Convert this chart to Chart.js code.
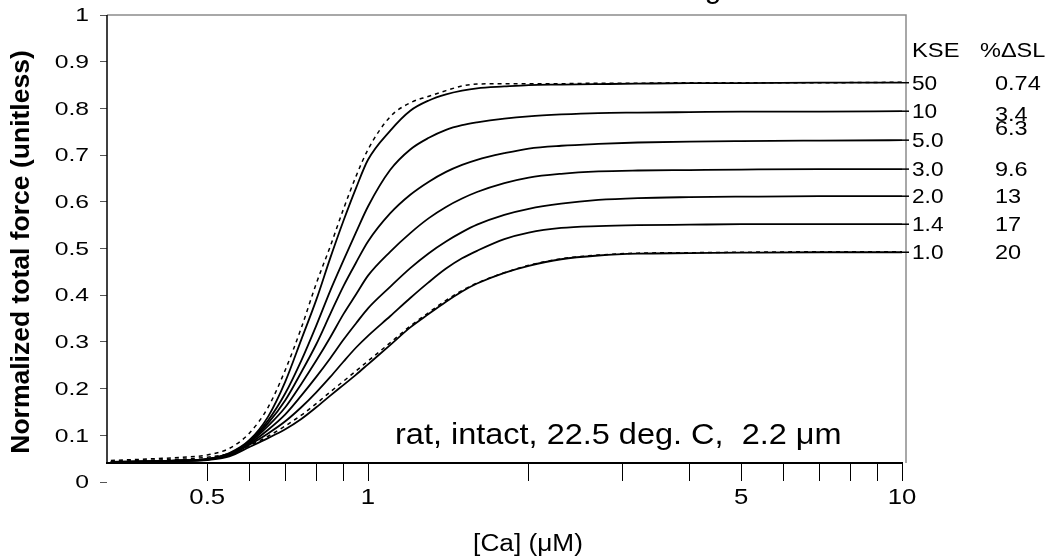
<!DOCTYPE html>
<html>
<head>
<meta charset="utf-8">
<script src="https://cdn.jsdelivr.net/npm/chart.js@4.4.1/dist/chart.umd.min.js"></script>
<style>
  html, body { margin: 0; padding: 0; background: #fff; }
</style>
</head>
<body>
<canvas id="chart" width="1050" height="560"></canvas>
<script>
// [Ca] sample points (uM)
const caValues = [0.33, 0.4, 0.45, 0.5, 0.55, 0.6, 0.65, 0.7, 0.75, 0.8, 0.85, 0.9, 0.95, 1.0,
  1.1, 1.2, 1.3, 1.4, 1.5, 1.6, 1.8, 2.0, 2.3, 2.7, 3.2, 4, 5, 7, 10];

// normalized total force, one list per KSE value (solid model lines)
const force50 = [0.043, 0.044, 0.046, 0.049, 0.062, 0.090, 0.140, 0.215, 0.305, 0.390, 0.480, 0.560, 0.630, 0.690,
  0.752, 0.795, 0.817, 0.830, 0.838, 0.843, 0.847, 0.850, 0.851, 0.852, 0.853, 0.854, 0.854, 0.855, 0.855];
const force10 = [0.043, 0.044, 0.046, 0.049, 0.061, 0.088, 0.132, 0.190, 0.260, 0.335, 0.410, 0.475, 0.535, 0.590,
  0.668, 0.712, 0.737, 0.754, 0.764, 0.770, 0.778, 0.783, 0.787, 0.790, 0.791, 0.792, 0.793, 0.793, 0.794];
const force5 = [0.043, 0.044, 0.046, 0.049, 0.060, 0.086, 0.126, 0.175, 0.235, 0.295, 0.360, 0.420, 0.470, 0.515,
  0.575, 0.615, 0.643, 0.664, 0.679, 0.690, 0.704, 0.714, 0.720, 0.724, 0.727, 0.729, 0.730, 0.731, 0.732];
const force3 = [0.043, 0.044, 0.046, 0.049, 0.059, 0.084, 0.120, 0.160, 0.210, 0.260, 0.310, 0.360, 0.402, 0.442,
  0.493, 0.533, 0.565, 0.589, 0.607, 0.621, 0.640, 0.652, 0.660, 0.665, 0.667, 0.668, 0.669, 0.670, 0.670];
const force2 = [0.043, 0.044, 0.046, 0.048, 0.058, 0.082, 0.112, 0.145, 0.185, 0.225, 0.265, 0.305, 0.340, 0.372,
  0.418, 0.458, 0.490, 0.515, 0.535, 0.551, 0.572, 0.585, 0.596, 0.604, 0.608, 0.610, 0.611, 0.612, 0.612];
const force14 = [0.043, 0.044, 0.045, 0.048, 0.057, 0.080, 0.104, 0.130, 0.160, 0.192, 0.225, 0.258, 0.288, 0.313,
  0.355, 0.394, 0.428, 0.457, 0.479, 0.495, 0.520, 0.534, 0.544, 0.548, 0.550, 0.551, 0.552, 0.552, 0.552];
const force1 = [0.043, 0.044, 0.045, 0.047, 0.055, 0.075, 0.094, 0.113, 0.135, 0.160, 0.185, 0.208, 0.230, 0.252,
  0.293, 0.331, 0.360, 0.386, 0.408, 0.425, 0.448, 0.463, 0.477, 0.485, 0.489, 0.490, 0.491, 0.492, 0.492];

// dashed lines next to KSE 50 and KSE 1.0
const dashed50 = [0.046, 0.050, 0.053, 0.058, 0.072, 0.105, 0.160, 0.240, 0.330, 0.425, 0.505, 0.585, 0.655, 0.712,
  0.782, 0.812, 0.826, 0.838, 0.848, 0.852, 0.853, 0.853, 0.853, 0.854, 0.854, 0.855, 0.855, 0.855, 0.856];
const dashed1 = [0.044, 0.047, 0.049, 0.053, 0.061, 0.078, 0.098, 0.120, 0.143, 0.168, 0.193, 0.216, 0.238, 0.259,
  0.298, 0.334, 0.363, 0.389, 0.410, 0.426, 0.448, 0.464, 0.478, 0.486, 0.490, 0.491, 0.492, 0.493, 0.493];

const kseLabels = ['50', '10', '5.0', '3.0', '2.0', '1.4', '1.0'];
const slLabels = ['0.74', '3.4', '6.3', '9.6', '13', '17', '20'];

const xTickValues = [0.5, 0.6, 0.7, 0.8, 0.9, 1, 2, 3, 4, 5, 6, 7, 8, 9, 10];
const xTickLabels = ['0.5', '', '', '', '', '1', '', '', '', '5', '', '', '', '', '10'];
const yTickValues = [0, 0.1, 0.2, 0.3, 0.4, 0.5, 0.6, 0.7, 0.8, 0.9, 1];
const yTickLabels = ['0', '0.1', '0.2', '0.3', '0.4', '0.5', '0.6', '0.7', '0.8', '0.9', '1'];

const xAxisAt = 0.0407;
const FONT = '"Liberation Sans", Arial, sans-serif';

Chart.defaults.font.family = FONT;
Chart.defaults.color = '#000';

function points(vals) {
    return caValues.map((c, i) => ({ x: c, y: vals[i] }));
}

function solid(vals) {
    return {
        data: points(vals),
        borderColor: '#000',
        borderWidth: 1.8,
        pointRadius: 0,
        fill: false,
        cubicInterpolationMode: 'monotone',
    };
}

function dashed(vals) {
    return {
        data: points(vals),
        borderColor: '#000',
        borderWidth: 1.5,
        borderDash: [4, 4],
        pointRadius: 0,
        fill: false,
        cubicInterpolationMode: 'monotone',
    };
}

// the original text is wider than plain Arial, so squeeze it out a bit
function wideText(ctx, text, x, y, sx, align) {
    ctx.save();
    ctx.translate(x, y);
    ctx.scale(sx, 1);
    ctx.textAlign = align;
    ctx.fillText(text, 0, 0);
    ctx.restore();
}

const solidSets = [force50, force10, force5, force3, force2, force14, force1];

const extras = {
    id: 'extras',
    afterDraw(chart) {
        const { ctx, chartArea: a, scales: { x, y } } = chart;
        const axisY = y.getPixelForValue(xAxisAt);
        const frameX = a.right + 4;
        ctx.save();

        // plot frame (grey top and right)
        ctx.strokeStyle = '#8c8c8c';
        ctx.lineWidth = 1.5;
        ctx.beginPath();
        ctx.moveTo(a.left, a.top);
        ctx.lineTo(frameX, a.top);
        ctx.lineTo(frameX, axisY);
        ctx.stroke();

        // y axis line, stops at the x axis
        ctx.strokeStyle = '#000';
        ctx.lineWidth = 1.5;
        ctx.beginPath();
        ctx.moveTo(a.left, a.top);
        ctx.lineTo(a.left, axisY);
        ctx.stroke();

        // short leaders from line ends to labels
        solidSets.forEach(vals => {
            const py = y.getPixelForValue(vals[vals.length - 1]);
            ctx.beginPath();
            ctx.moveTo(x.getPixelForValue(caValues[caValues.length - 1]), py);
            ctx.lineTo(frameX + 3, py);
            ctx.stroke();
        });

        ctx.fillStyle = '#000';
        ctx.textBaseline = 'middle';

        // tick labels
        ctx.font = '19px ' + FONT;
        yTickValues.forEach((v, i) => {
            wideText(ctx, yTickLabels[i], 89, y.getPixelForValue(v) + 1, 1.3, 'right');
        });
        ctx.font = '22px ' + FONT;
        xTickValues.forEach((v, i) => {
            if (xTickLabels[i]) wideText(ctx, xTickLabels[i], x.getPixelForValue(v), 498, 1.17, 'center');
        });

        // right-hand key
        ctx.font = '21px ' + FONT;
        wideText(ctx, 'KSE', 912, 51, 1.13, 'left');
        wideText(ctx, '%\u0394SL', 980, 51, 1.12, 'left');
        solidSets.forEach((vals, i) => {
            const py = y.getPixelForValue(vals[vals.length - 1]) + 1;
            wideText(ctx, kseLabels[i], 912, py, 1.08, 'left');
            const shift = i === 2 ? -12 : (i === 1 ? 3 : 0);
            wideText(ctx, slLabels[i], 995, py + shift, 1.12, 'left');
        });

        // annotation inside plot
        ctx.font = '29px ' + FONT;
        wideText(ctx, 'rat, intact, 22.5 deg. C,  2.2 \u03bcm', 395, 436, 1.12, 'left');

        // x axis title
        ctx.font = '23px ' + FONT;
        wideText(ctx, '[Ca] (\u03bcM)', 528, 545, 1.14, 'center');

        // cut-off chart title, only its descender shows
        ctx.font = '30px ' + FONT;
        ctx.textBaseline = 'alphabetic';
        ctx.textAlign = 'center';
        ctx.fillText('g', 713, -2);

        // y axis title
        ctx.translate(22, 252);
        ctx.rotate(-Math.PI / 2);
        ctx.textBaseline = 'middle';
        ctx.font = 'bold 26.5px ' + FONT;
        ctx.fillText('Normalized total force (unitless)', 0, 0);
        ctx.restore();
    },
};

new Chart(document.getElementById('chart'), {
    type: 'line',
    data: {
        datasets: [
            dashed(dashed50), dashed(dashed1),
            solid(force50), solid(force10), solid(force5), solid(force3),
            solid(force2), solid(force14), solid(force1),
        ],
    },
    options: {
        responsive: false,
        animation: false,
        layout: { padding: { left: 0, top: 15, right: 148, bottom: 78 } },
        plugins: {
            legend: { display: false },
            tooltip: { enabled: false },
        },
        scales: {
            x: {
                type: 'logarithmic',
                bounds: 'data',
                min: 0.3245,
                max: 10,
                position: { y: xAxisAt },
                afterBuildTicks: (scale) => {
                    scale.ticks = xTickValues.map(v => ({ value: v }));
                },
                ticks: { display: false, autoSkip: false },
                grid: {
                    drawOnChartArea: false,
                    tickLength: 17,
                    color: '#000',
                    lineWidth: 1,
                },
                border: { color: '#000', width: 2 },
            },
            y: {
                min: 0,
                max: 1,
                afterFit: (scale) => { scale.width = 107; },
                afterBuildTicks: (scale) => {
                    scale.ticks = yTickValues.map(v => ({ value: v }));
                },
                ticks: { display: false },
                grid: {
                    drawOnChartArea: false,
                    tickLength: 7,
                    color: '#555',
                    lineWidth: 1,
                },
                border: { display: false },
            },
        },
    },
    plugins: [extras],
});
</script>
</body>
</html>
